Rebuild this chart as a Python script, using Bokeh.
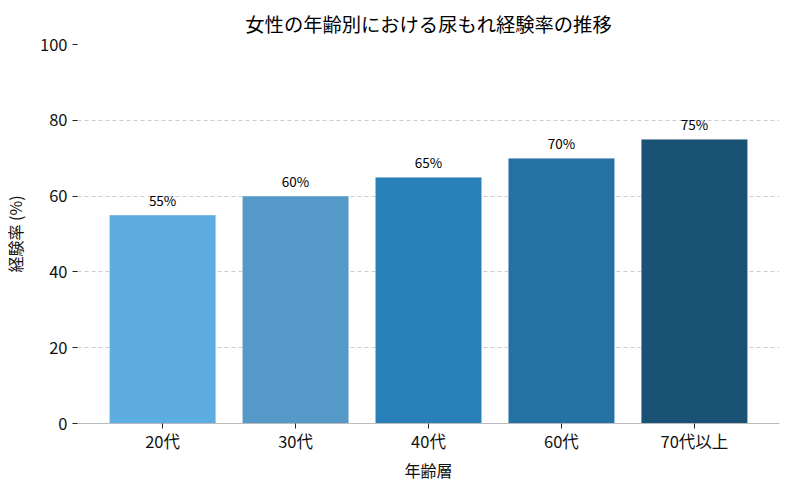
from bokeh.plotting import figure
from bokeh.models import ColumnDataSource, FactorRange, Range1d, FixedTicker, LabelSet
from bokeh.core.properties import value
from bokeh.embed import file_html
from bokeh.resources import INLINE

categories = ["20代", "30代", "40代", "60代", "70代以上"]
values = [55, 60, 65, 70, 75]
colors = ["#5DADE2", "#5499C7", "#2980B9", "#2471A3", "#1A5276"]
labels = [f"{v}%" for v in values]
y_ticks = [0, 20, 40, 60, 80, 100]
title_text = "女性の年齢別における尿もれ経験率の推移"

FONT = "Noto Sans CJK JP"

src = ColumnDataSource(dict(cat=categories, val=values, color=colors, label=labels,
                            ylab=[v + 1.3 for v in values]))

p = figure(frame_width=702, frame_height=379, output_backend="svg", toolbar_location=None,
           x_range=FactorRange(*categories, range_padding=0.14, range_padding_units="absolute"),
           y_range=Range1d(0, 100),
           min_border_left=70, min_border_right=2, min_border_top=44, min_border_bottom=48)

p.vbar(x="cat", top="val", width=0.8, source=src, fill_color="color",
       line_color="white", line_alpha=0.35, line_width=1)

p.add_layout(LabelSet(x="cat", y="ylab", text="label", source=src, text_align="center",
                      text_baseline="bottom", text_font=value(FONT), text_font_size="13.5px",
                      text_color="black"))

p.title.text = title_text
p.title.align = "center"
p.title.text_font = FONT
p.title.text_font_size = "19.3px"
p.title.text_font_style = "normal"
p.title.text_color = "black"
p.title.standoff = 14

p.outline_line_color = None
p.xgrid.grid_line_color = None
p.ygrid.grid_line_color = "#cccccc"
p.ygrid.grid_line_dash = "4 3"
p.ygrid.grid_line_width = 1

p.yaxis.ticker = FixedTicker(ticks=y_ticks)
p.yaxis.axis_line_color = None
p.yaxis.minor_tick_line_color = None
p.yaxis.major_tick_out = 5
p.yaxis.major_tick_in = 0
p.yaxis.major_tick_line_color = "#222222"
p.yaxis.axis_label = "経験率 (%)"
p.yaxis.axis_label_standoff = 10

p.xaxis.axis_line_color = "#bbbbbb"
p.xaxis.major_tick_out = 5
p.xaxis.major_tick_in = 0
p.xaxis.major_tick_line_color = "#222222"
p.xaxis.major_label_standoff = 0
p.xaxis.axis_label = "年齢層"
p.xaxis.axis_label_standoff = 2

for ax in (p.xaxis, p.yaxis):
    ax.major_label_text_font = FONT
    ax.major_label_text_font_size = "16.5px"
    ax.major_label_text_color = "#111111"
    ax.axis_label_text_font = FONT
    ax.axis_label_text_font_size = "16px"
    ax.axis_label_text_font_style = "normal"
    ax.axis_label_text_color = "#111111"

open("out.html", "w").write(file_html(p, INLINE))
